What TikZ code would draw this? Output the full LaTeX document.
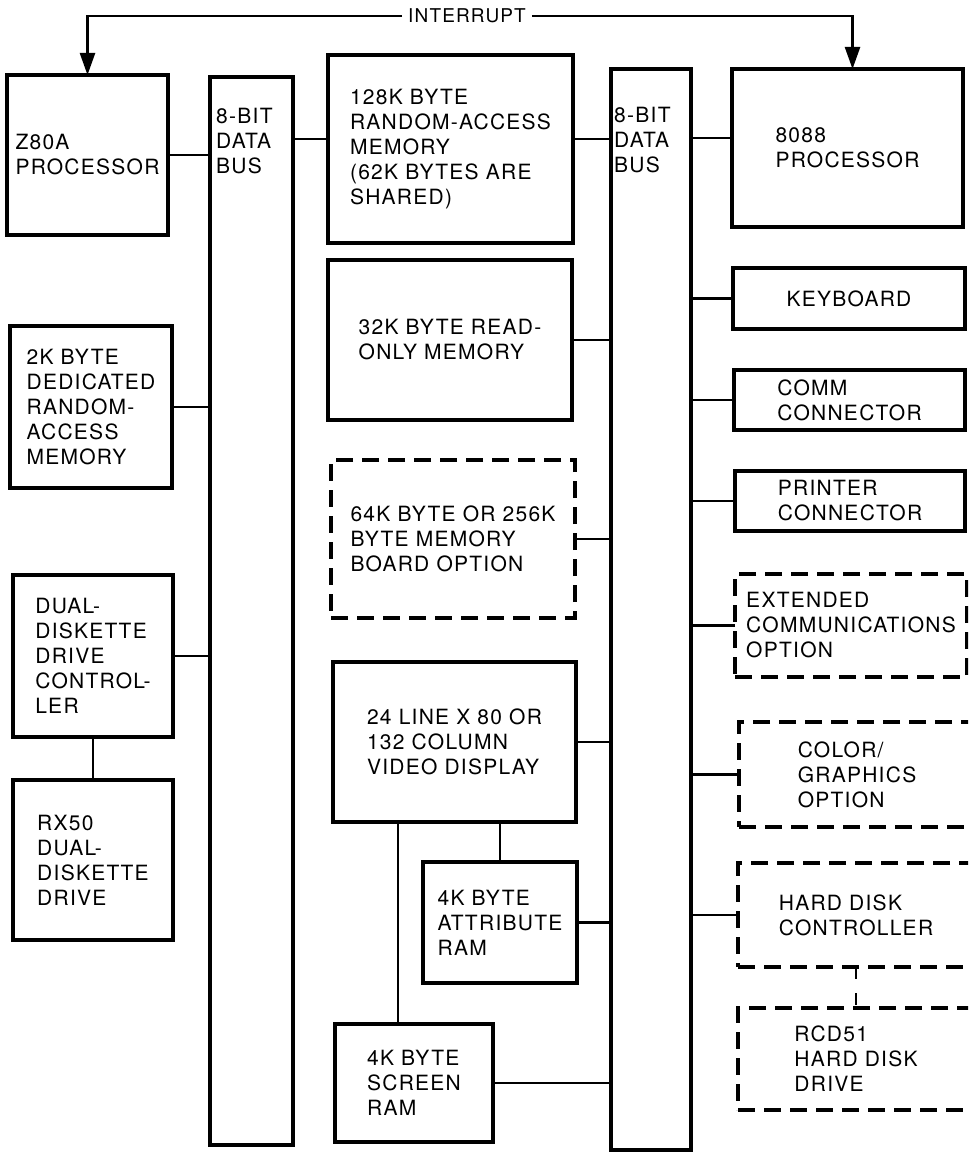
\documentclass[tikz,border=0pt]{standalone}
\usepackage{fontspec}
\setmainfont{TeX Gyre Heros}[LetterSpace=6]
\usetikzlibrary{arrows.meta, positioning}

\tikzset{
  blk/.style={draw, line width=3.4pt, anchor=north west, inner sep=0pt, outer sep=0pt,
    align=left, font=\fontsize{21}{25}\selectfont},
  optblk/.style={blk, dash pattern=on 17pt off 9pt},
  busbar/.style={draw, line width=3.4pt, anchor=north west, inner sep=0pt, outer sep=0pt},
  buslbl/.style={anchor=west, align=left, inner sep=0pt, font=\fontsize{21}{25}\selectfont},
  wire/.style={line width=2.4pt},
  irq/.style={wire, -{Triangle[length=22pt,width=15pt]}},
}

\begin{document}
\begin{tikzpicture}[x=1pt, y=-1pt]
  \path[use as bounding box] (0,0) rectangle (968,1155);
  \clip (0,0) rectangle (968,1155);

  % the two data buses
  \node[busbar, minimum width=83, minimum height=1068] (lbus) at (210,77) {};
  \node[busbar, minimum width=80, minimum height=1081] (rbus) at (611,69) {};
  \node[buslbl] (lbuslbl) at (216,141) {8-BIT\\DATA\\BUS};
  \node[buslbl] (rbuslbl) at (614,140) {8-BIT\\DATA\\BUS};

  % Z80A side
  \node[blk, minimum width=161, minimum height=160] (z80) at (7,75) {Z80A\\PROCESSOR};
  \node[blk, minimum width=162, minimum height=162] (dram) at (10,326)
    {2K BYTE\\DEDICATED\\RANDOM-\\ACCESS\\MEMORY};
  \node[blk, minimum width=160, minimum height=162] (fdc) at (13,575)
    {DUAL-\\DISKETTE\\DRIVE\\CONTROL-\\LER};
  \node[blk, minimum width=160, minimum height=160] (rx50) at (13,780)
    {RX50\\DUAL-\\DISKETTE\\DRIVE};

  % memory and video
  \node[blk, minimum width=245, minimum height=188] (ram) at (328,55)
    {128K BYTE\\RANDOM-ACCESS\\MEMORY\\(62K BYTES ARE\\SHARED)};
  \node[blk, minimum width=244, minimum height=160] (rom) at (328,260)
    {32K BYTE READ-\\ONLY MEMORY};
  \node[optblk, minimum width=244, minimum height=158] (opt64) at (331,460)
    {64K BYTE OR 256K\\BYTE MEMORY\\BOARD OPTION};
  \node[blk, minimum width=243, minimum height=160] (video) at (333,662)
    {24 LINE X 80 OR\\132 COLUMN\\VIDEO DISPLAY};
  \node[blk, minimum width=154, minimum height=121] (attr) at (423,862)
    {4K BYTE\\ATTRIBUTE\\RAM};
  \node[blk, minimum width=158, minimum height=118] (scr) at (335,1024)
    {4K BYTE\\SCREEN\\RAM};

  % 8088 side
  \node[blk, minimum width=231, minimum height=158] (cpu) at (732,69) {8088\\PROCESSOR};
  \node[blk, minimum width=232, minimum height=61] (kbd) at (733,268) {KEYBOARD};
  \node[blk, minimum width=231, minimum height=60] (comm) at (734,370) {COMM\\CONNECTOR};
  \node[blk, minimum width=230, minimum height=60] (prn) at (735,471) {PRINTER\\CONNECTOR};
  \node[optblk, minimum width=232, minimum height=103] (extc) at (735,574)
    {EXTENDED\\COMMUNICATIONS\\OPTION};
  \node[optblk, minimum width=236, minimum height=105] (color) at (739,722)
    {COLOR/\\GRAPHICS\\OPTION};
  \node[optblk, minimum width=236, minimum height=104] (hdc) at (738,863)
    {HARD DISK\\CONTROLLER};
  \node[optblk, minimum width=236, minimum height=102] (rcd) at (738,1008)
    {RCD51\\HARD DISK\\DRIVE};

  % interrupt
  \node[font=\fontsize{19}{21}\selectfont, inner sep=6pt] (intr) at (467,16) {INTERRUPT};
  \draw[irq] (intr.west) -| (z80.north);
  \draw[irq] (intr.east) -| ([xshift=5pt]cpu.north);

  % left bus
  \draw[wire] (z80.east) -- (z80.east -| lbus.west);
  \draw[wire] (dram.east) -- (dram.east -| lbus.west);
  \draw[wire] (fdc.east) -- (fdc.east -| lbus.west);
  \draw[wire] (fdc.south) -- (rx50.north);
  \draw[wire] ([yshift=10pt]ram.west) -- ([yshift=10pt]ram.west -| lbus.east);

  % right bus
  \draw[wire] ([yshift=10pt]ram.east) -- ([yshift=10pt]ram.east -| rbus.west);
  \draw[wire] ([yshift=10pt]cpu.west) -- ([yshift=10pt]cpu.west -| rbus.east);
  \foreach \m in {rom, opt64, video, attr, scr}
    \draw[wire] (\m.east) -- (\m.east -| rbus.west);
  \foreach \d in {kbd, comm, prn, extc, color, hdc}
    \draw[wire] (\d.west) -- (\d.west -| rbus.east);

  % video memories and disk
  \draw[wire] (attr.north) -- (attr.north |- video.south);
  \draw[wire] ([xshift=-16pt]scr.north) -- ([xshift=-16pt]scr.north |- video.south);
  \draw[wire, dash pattern=on 12pt off 14pt] (hdc.south) -- (rcd.north);
\end{tikzpicture}
\end{document}
